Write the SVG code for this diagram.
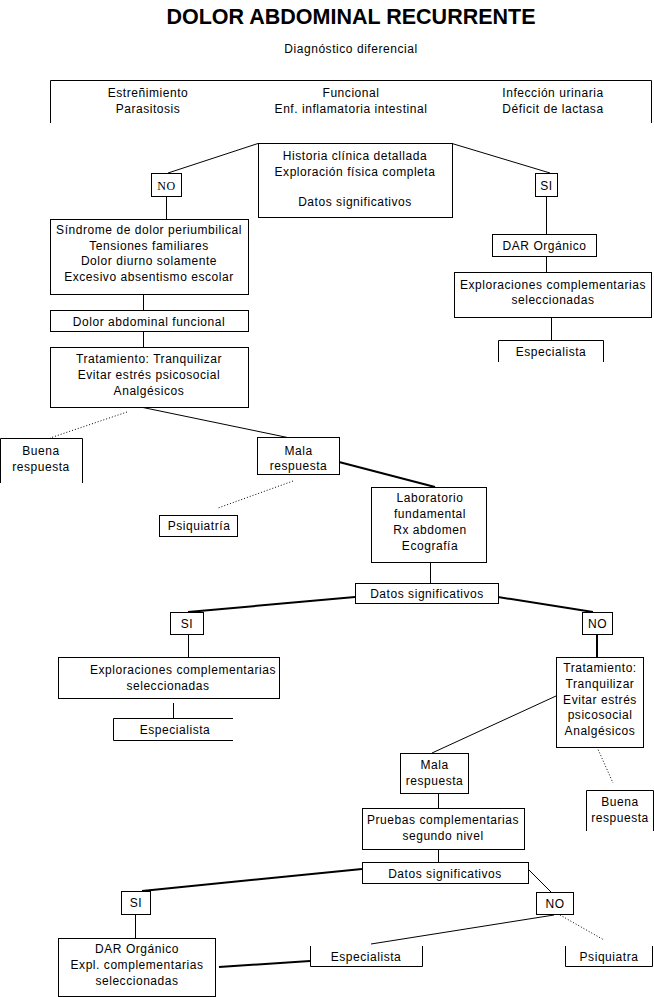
<svg xmlns="http://www.w3.org/2000/svg" width="654" height="997" viewBox="0 0 654 997">
<style>
text{font-family:"Liberation Sans",Arial,sans-serif;font-size:12px;letter-spacing:0.55px;fill:#000;text-anchor:middle}
.t{font-size:21.5px;font-weight:bold;letter-spacing:0}
.sf{font-family:"Liberation Serif","Times New Roman",serif}
.b{fill:#fff;stroke:#000;stroke-width:1}
.o{fill:none;stroke:#000;stroke-width:1}
.l{fill:none;stroke:#000;stroke-width:1}
.k{fill:none;stroke:#000;stroke-width:2}
.d{fill:none;stroke:#000;stroke-width:1;stroke-dasharray:1 2}
</style>
<rect width="654" height="997" fill="#fff"/>
<text class="t" x="351" y="24">DOLOR ABDOMINAL RECURRENTE</text>
<text x="351" y="53">Diagnóstico diferencial</text>
<g id="diferencial">
<path class="o" d="M50.5,123 V80.5 H651.5 V123"/>
<text x="148" y="97">Estreñimiento</text>
<text x="148" y="113">Parasitosis</text>
<text x="351" y="97">Funcional</text>
<text x="351" y="113">Enf. inflamatoria intestinal</text>
<text x="553" y="97">Infección urinaria</text>
<text x="553" y="113">Déficit de lactasa</text>
</g>
<g id="connectors">
<path class="l" d="M258,143.5 L168,173"/>
<path class="l" d="M452,143.5 L550,173"/>
<path class="l" d="M546.5,196 V234 M546.5,256 V272 M551.5,317 V340"/>
<path class="l" d="M166.5,196 V219 M143.5,294 V310 M143.5,331 V347"/>
<path class="l" d="M143,407.5 L290,438"/>
<path class="d" d="M127,412 L50,438"/>
<path class="d" d="M293,481 L218,508"/>
<path class="k" d="M339,462 L435,487"/>
<path class="l" d="M430.5,562 V583"/>
<path class="k" d="M355,597 L188,612"/>
<path class="l" d="M188.5,634 V657"/>
<path class="l" d="M173.5,703 V718"/>
<path class="k" d="M498,597 L593,612"/>
<path class="k" d="M597,634 V657"/>
<path class="l" d="M556,696 L432,753"/>
<path class="d" d="M597,747 L613,783"/>
<path class="l" d="M438.5,793 V808 M438.5,849 V862"/>
<path class="k" d="M362,869 L142,891"/>
<path class="l" d="M528,869 L551,892"/>
<path class="l" d="M135.5,914 V938"/>
<path class="k" d="M219,967 L310,961"/>
<path class="l" d="M554,915 L371,944"/>
<path class="d" d="M560,915 L604,940"/>
</g>
<g id="historia">
<rect class="b" x="258.5" y="143.5" width="194" height="74"/>
<text x="355" y="160">Historia clínica detallada</text>
<text x="355" y="176">Exploración física completa</text>
<text x="355" y="206">Datos significativos</text>
</g>
<g id="no1">
<rect class="b" x="151.5" y="173.5" width="30" height="23"/>
<text class="sf" x="166.5" y="190">NO</text>
</g>
<g id="si1">
<rect class="b" x="535.5" y="173.5" width="22" height="23"/>
<text x="546.5" y="190">SI</text>
</g>
<g id="dar1">
<rect class="b" x="492.5" y="234.5" width="104" height="22"/>
<text x="544.5" y="250">DAR Orgánico</text>
</g>
<g id="exploraciones1">
<rect class="b" x="454.5" y="272.5" width="197" height="45"/>
<text x="553" y="289">Exploraciones complementarias</text>
<text x="553" y="304">seleccionadas</text>
</g>
<g id="especialista1">
<path class="o" d="M498.5,362 V340.5 H603.5 V362"/>
<text x="551" y="356">Especialista</text>
</g>
<g id="sindrome">
<rect class="b" x="50.5" y="219.5" width="198" height="75"/>
<text x="149" y="234">Síndrome de dolor periumbilical</text>
<text x="149" y="250">Tensiones familiares</text>
<text x="149" y="265">Dolor diurno solamente</text>
<text x="149" y="281">Excesivo absentismo escolar</text>
</g>
<g id="dolorfuncional">
<rect class="b" x="50.5" y="310.5" width="198" height="21"/>
<text x="149" y="326">Dolor abdominal funcional</text>
</g>
<g id="tratamiento1">
<rect class="b" x="50.5" y="347.5" width="198" height="60"/>
<text x="149" y="363">Tratamiento: Tranquilizar</text>
<text x="149" y="379">Evitar estrés psicosocial</text>
<text x="149" y="395">Analgésicos</text>
</g>
<g id="buena1">
<path class="o" d="M0.5,483 V438.5 H82.5 V483"/>
<text x="41" y="455">Buena</text>
<text x="41" y="471">respuesta</text>
</g>
<g id="mala1">
<rect class="b" x="257.5" y="437.5" width="82" height="37"/>
<text x="298.5" y="455">Mala</text>
<text x="298.5" y="470">respuesta</text>
</g>
<g id="psiquiatria">
<rect class="b" x="159.5" y="515.5" width="78" height="21"/>
<text x="199" y="530">Psiquiatría</text>
</g>
<g id="laboratorio">
<rect class="b" x="371.5" y="487.5" width="115" height="75"/>
<text x="430" y="502">Laboratorio</text>
<text x="430" y="518">fundamental</text>
<text x="430" y="534">Rx abdomen</text>
<text x="430" y="550">Ecografía</text>
</g>
<g id="datos2">
<rect class="b" x="355.5" y="583.5" width="143" height="20"/>
<text x="427" y="598">Datos significativos</text>
</g>
<g id="si2">
<rect class="b" x="170.5" y="612.5" width="33" height="22"/>
<text x="187" y="628">SI</text>
</g>
<g id="exploraciones2">
<rect class="b" x="58.5" y="657.5" width="221" height="41"/>
<text x="183" y="674">Exploraciones complementarias</text>
<text x="168" y="690">seleccionadas</text>
</g>
<g id="especialista2">
<path class="o" d="M233,718.5 H113.5 V740.5 H233"/>
<text x="175" y="734">Especialista</text>
</g>
<g id="no2">
<rect class="b" x="582.5" y="612.5" width="30" height="22"/>
<text x="597.5" y="628">NO</text>
</g>
<g id="tratamiento2">
<rect class="b" x="556.5" y="657.5" width="87" height="90"/>
<text x="600" y="672">Tratamiento:</text>
<text x="600" y="688">Tranquilizar</text>
<text x="600" y="704">Evitar estrés</text>
<text x="600" y="719">psicosocial</text>
<text x="600" y="735">Analgésicos</text>
</g>
<g id="mala2">
<rect class="b" x="400.5" y="753.5" width="68" height="40"/>
<text x="434.5" y="769">Mala</text>
<text x="434.5" y="785">respuesta</text>
</g>
<g id="buena2">
<path class="o" d="M586.5,831 V790.5 H653.5 V831"/>
<text x="620" y="806">Buena</text>
<text x="620" y="822">respuesta</text>
</g>
<g id="pruebas">
<rect class="b" x="362.5" y="808.5" width="162" height="41"/>
<text x="443" y="824">Pruebas complementarias</text>
<text x="443" y="840">segundo nivel</text>
</g>
<g id="datos3">
<rect class="b" x="362.5" y="862.5" width="166" height="21"/>
<text x="445" y="878">Datos significativos</text>
</g>
<g id="si3">
<rect class="b" x="121.5" y="891.5" width="29" height="23"/>
<text x="136" y="907">SI</text>
</g>
<g id="no3">
<rect class="b" x="536.5" y="892.5" width="37" height="22"/>
<text x="555" y="908">NO</text>
</g>
<g id="dar3">
<rect class="b" x="58.5" y="938.5" width="157" height="58"/>
<text x="137" y="953">DAR Orgánico</text>
<text x="137" y="969">Expl. complementarias</text>
<text x="137" y="985">seleccionadas</text>
</g>
<g id="especialista3">
<path class="o" d="M310.5,946 V966.5 H422.5 V946"/>
<text x="366" y="961">Especialista</text>
</g>
<g id="psiquiatra">
<path class="o" d="M565.5,946 V966.5 H652.5 V946"/>
<text x="609" y="961">Psiquiatra</text>
</g>
</svg>
